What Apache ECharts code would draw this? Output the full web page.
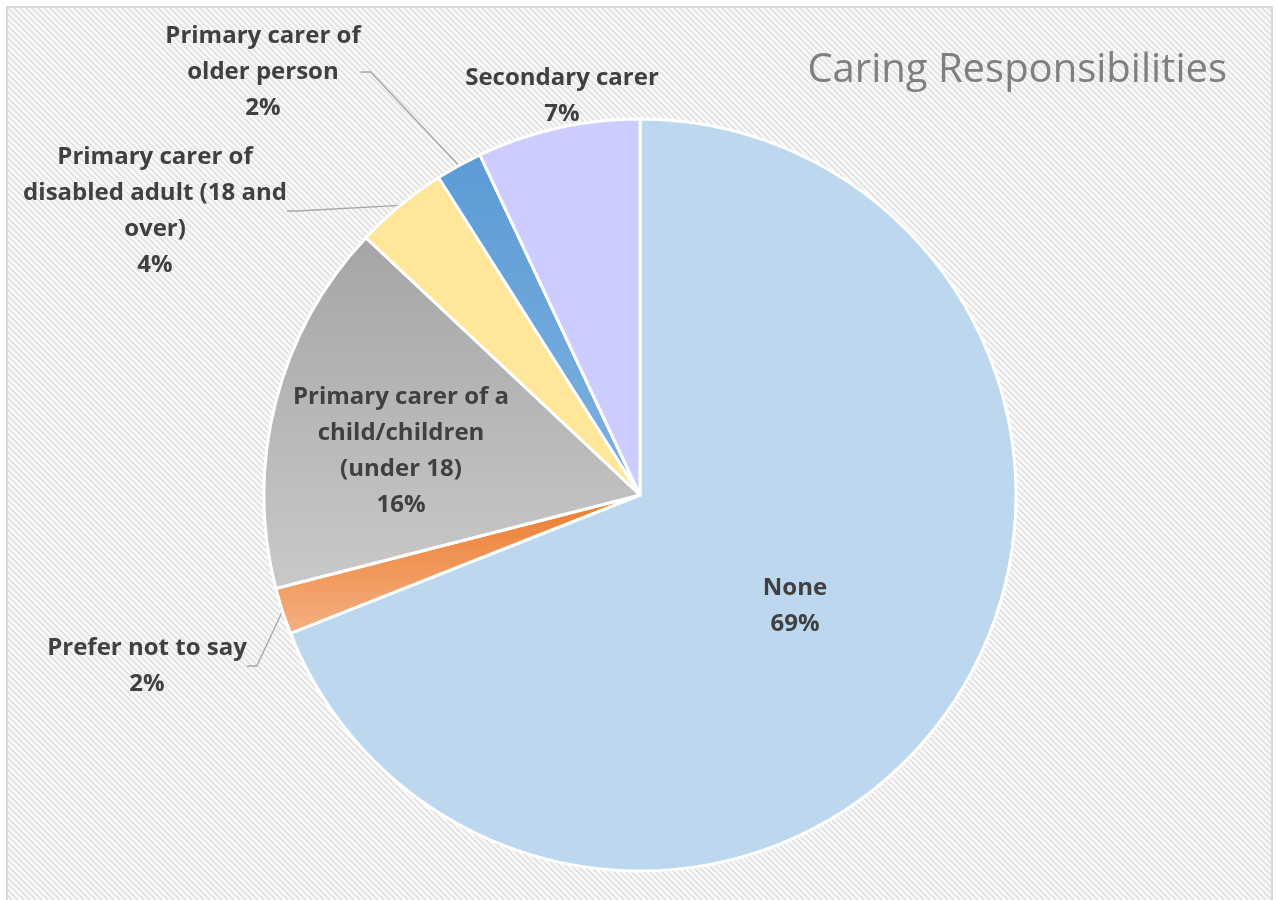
<!DOCTYPE html>
<html>
<head>
<meta charset="utf-8">
<script src="https://cdn.jsdelivr.net/npm/echarts@6/dist/echarts.min.js"></script>
<style>
  html, body { margin: 0; padding: 0; background: #ffffff; }
  #chart { width: 1277px; height: 900px; }
</style>
</head>
<body>
<div id="chart"></div>
<script>
// Survey breakdown of caring responsibilities (percent of respondents)
const categories = [
  'None',
  'Prefer not to say',
  'Primary carer of a child/children (under 18)',
  'Primary carer of disabled adult (18 and over)',
  'Primary carer of older person',
  'Secondary carer'
];
const values = [69, 2, 16, 4, 2, 7];

// Label text broken over lines the way it is printed on the chart
const labelLines = [
  ['None'],
  ['Prefer not to say'],
  ['Primary carer of a', 'child/children', '(under 18)'],
  ['Primary carer of', 'disabled adult (18 and', 'over)'],
  ['Primary carer of', 'older person'],
  ['Secondary carer']
];

function vGrad(top, bottom) {
  return new echarts.graphic.LinearGradient(0, 0, 0, 1, [
    { offset: 0, color: top },
    { offset: 1, color: bottom }
  ]);
}
const sliceColors = [
  '#BDD7EE',
  vGrad('#EC7A2C', '#F4B183'),
  vGrad('#A5A5A5', '#C9C9C9'),
  '#FFE699',
  vGrad('#5B9BD5', '#7EB2E0'),
  '#CCCCFF'
];

// Where each label block sits (centre of the text block)
const labelSpots = [
  { x: 795, y: 606 },
  { x: 147, y: 666 },
  { x: 401, y: 451 },
  { x: 155, y: 211 },
  { x: 263, y: 72 },
  { x: 562, y: 96 }
];

// Diagonal hatched backdrop
function hatch() {
  const c = document.createElement('canvas');
  c.width = 6; c.height = 6;
  const g = c.getContext('2d');
  g.fillStyle = '#fbfbfb';
  g.fillRect(0, 0, 6, 6);
  g.strokeStyle = '#e4e4e4';
  g.lineWidth = 2.2;
  for (let k = -6; k <= 12; k += 6) {
    g.beginPath();
    g.moveTo(k - 6, -6 + 0);
    g.lineTo(k + 12, 12);
    g.stroke();
  }
  return c;
}

const chart = echarts.init(document.getElementById('chart'), null, { renderer: 'canvas' });

const data = categories.map((name, i) => ({
  name: name,
  value: values[i],
  itemStyle: { color: sliceColors[i] },
  labelLine: { show: !(i === 0 || i === 2 || i === 5) }
}));

chart.setOption({
  animation: false,
  backgroundColor: '#ffffff',
  graphic: [
    {
      type: 'rect',
      shape: { x: 7, y: 7, width: 1265, height: 900 },
      style: { fill: { image: hatch(), repeat: 'repeat' }, stroke: '#d9d9d9', lineWidth: 2 },
      silent: true,
      z: -10
    }
  ],
  title: {
    text: 'Caring Responsibilities',
    right: 45,
    top: 46,
    textStyle: {
      fontFamily: 'Open Sans',
      fontWeight: 'normal',
      fontSize: 40,
      color: '#7f7f7f'
    }
  },
  series: [
    {
      type: 'pie',
      center: [640, 495],
      radius: 376,
      startAngle: 90,
      clockwise: true,
      data: data,
      itemStyle: { borderColor: '#ffffff', borderWidth: 3 },
      label: {
        show: true,
        position: 'outside',
        fontFamily: 'Open Sans',
        fontWeight: 'bold',
        fontSize: 24,
        lineHeight: 36,
        color: '#404040',
        align: 'center',
        formatter: p => labelLines[p.dataIndex].concat([p.value + '%']).join('\n')
      },
      labelLine: {
        show: true,
        length: 10,
        length2: 10,
        lineStyle: { color: '#a6a6a6', width: 1.3 }
      },
      labelLayout: p => {
        const s = labelSpots[p.dataIndex];
        return { x: s.x, y: s.y, align: 'center', verticalAlign: 'middle' };
      },
      emphasis: { disabled: true }
    }
  ]
});
</script>
</body>
</html>
